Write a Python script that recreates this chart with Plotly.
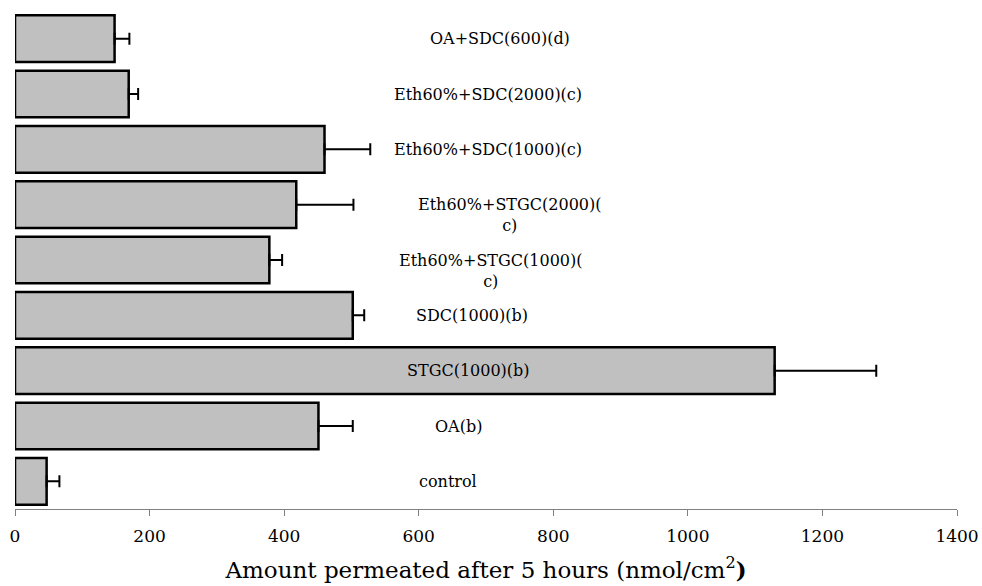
import plotly.graph_objects as go

# Data (top to bottom as drawn)
categories = [
    "OA+SDC(600)(d)",
    "Eth60%+SDC(2000)(c)",
    "Eth60%+SDC(1000)(c)",
    "Eth60%+STGC(2000)(c)",
    "Eth60%+STGC(1000)(c)",
    "SDC(1000)(b)",
    "STGC(1000)(b)",
    "OA(b)",
    "control",
]
values = [148, 169, 460, 418, 378, 502, 1129, 451, 47]
errors = [22, 14, 68, 85, 19, 17, 151, 51, 19]
display_labels = [
    "OA+SDC(600)(d)",
    "Eth60%+SDC(2000)(c)",
    "Eth60%+SDC(1000)(c)",
    "Eth60%+STGC(2000)(<br>c)",
    "Eth60%+STGC(1000)(<br>c)",
    "SDC(1000)(b)",
    "STGC(1000)(b)",
    "OA(b)",
    "control",
]
tick_vals = [0, 200, 400, 600, 800, 1000, 1200, 1400]

# layout-only: horizontal centre of each category label (paper fraction)
label_x = [0.515, 0.502, 0.502, 0.525, 0.5045, 0.4854, 0.4812, 0.4706, 0.460]

FONT = "DejaVu Serif"

fig = go.Figure()
fig.add_trace(go.Bar(
    x=values,
    y=categories,
    orientation="h",
    marker=dict(color="#c0c0c0", line=dict(color="black", width=2.5)),
    error_x=dict(type="data", array=errors, symmetric=False, arrayminus=[0] * len(errors),
                 color="black", thickness=2, width=6),
    showlegend=False,
))

annotations = []
for cat, lab, lx in zip(categories, display_labels, label_x):
    two_line = "<br>" in lab
    annotations.append(dict(
        x=lx, xref="paper", y=cat, yref="y",
        text=lab, showarrow=False,
        xanchor="center", yanchor="middle",
        yshift=-10.5 if two_line else 0,
        align="center",
        font=dict(family=FONT, size=16, color="black"),
    ))

fig.update_layout(
    width=982, height=586,
    margin=dict(l=14.5, r=25, t=11, b=77, autoexpand=False),
    paper_bgcolor="white", plot_bgcolor="white",
    bargap=0.156,
    annotations=annotations,
    font=dict(family=FONT, color="black"),
    xaxis=dict(
        range=[0, 1400],
        automargin=False,
        tickvals=tick_vals,
        ticktext=[str(v) for v in tick_vals],
        showgrid=False, zeroline=False,
        showline=True, linecolor="#808080", linewidth=1,
        ticks="outside", ticklen=6, tickcolor="#808080", tickwidth=1,
        tickfont=dict(family=FONT, size=17, color="black"),
        ticklabelstandoff=6,
        title=dict(text="Amount permeated after 5 hours (nmol/cm<sup>2</sup><b>)</b>",
                   font=dict(family=FONT, size=23, color="black"), standoff=16),
    ),
    yaxis=dict(
        autorange="reversed",
        automargin=False,
        showticklabels=False, showgrid=False, zeroline=False,
        showline=False, ticks="",
    ),
)

fig.write_html(
    "out.html",
    config={"displayModeBar": False},
    post_script="document.body.style.margin='0px';document.body.style.padding='0px';",
)
